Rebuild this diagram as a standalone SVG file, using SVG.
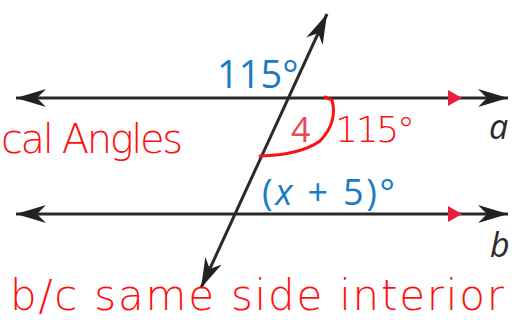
<svg xmlns="http://www.w3.org/2000/svg" width="512" height="320" viewBox="0 0 512 320">
<style>
.ln{stroke:#2a2a2a;stroke-width:3;fill:none}
.blue{fill:#1b7cc4;font-family:"Open Sans",sans-serif}
.lbl{fill:#2b2b2b;font-family:"Open Sans",sans-serif;font-style:italic}
.hand{fill:#ff1010;font-family:"DejaVu Sans",sans-serif;font-weight:300}
</style>
<defs>
<marker id="ah" markerUnits="userSpaceOnUse" viewBox="-32 -10 34 20" markerWidth="34" markerHeight="20" refX="0" refY="0" orient="auto-start-reverse">
<path d="M0,0 L-30,-9 L-21,0 L-30,9 Z" fill="#222"/>
</marker>
</defs>
<rect width="512" height="320" fill="#fff"/>
<g id="connectors">
<line id="line-a" class="ln" x1="16" y1="98" x2="508" y2="98" marker-start="url(#ah)" marker-end="url(#ah)"/>
<line id="line-b" class="ln" x1="16" y1="214" x2="508" y2="214" marker-start="url(#ah)" marker-end="url(#ah)"/>
<line id="transversal" class="ln" x1="201" y1="288" x2="327" y2="14" marker-start="url(#ah)" marker-end="url(#ah)"/>
<path d="M448,90 L462,98 L448,106 Z" fill="#e4203c"/>
<path d="M448,206 L462,214 L448,222 Z" fill="#e4203c"/>
</g>
<g id="labels">
<text class="blue" x="217" y="88" font-size="38">115°</text>
<text x="291" y="142" font-size="34" font-family="Open Sans,sans-serif" fill="#e84a55">4</text>
<text class="blue" x="262" y="205" font-size="36" textLength="133">(<tspan font-style="italic">x</tspan> + 5)°</text>
<text class="lbl" x="489" y="139" font-size="34">a</text>
<text class="lbl" x="490" y="257" font-size="34">b</text>
</g>
<g id="handwriting">
<path d="M260,156 Q300,155 320,141 Q338,122 332,100 L325,97" fill="none" stroke="#ff1010" stroke-width="3" stroke-linecap="round"/>
<text class="hand" x="1" y="153" font-size="40" textLength="182">cal Angles</text>
<text class="hand" x="335" y="142" font-size="36" textLength="80">115°</text>
<text class="hand" x="10" y="310" font-size="42" textLength="494">b/c same side interior</text>
</g>
</svg>
